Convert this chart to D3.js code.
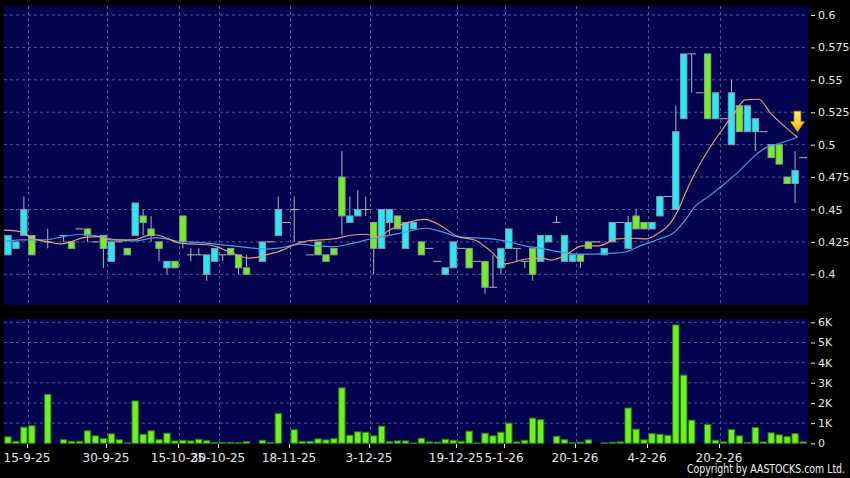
<!DOCTYPE html>
<html>
<head>
<meta charset="utf-8">
<title>Price chart</title>
<script src="https://d3js.org/d3.v7.min.js"></script>
<style>
  html, body { margin: 0; padding: 0; background: #000; }
  svg { display: block; }
  .axis text { fill: #e6e6e6; font-family: "DejaVu Sans", sans-serif; font-size: 12px; }
  .yaxis text { font-size: 11px; }
  .axis line { stroke: #e6e6e6; }
  .axis path { display: none; }
</style>
</head>
<body>
<div id="chart"></div>
<script>
// daily candles, index 0..100 (null = no candle that day)
var opens  = [.415,.42,.43,.43,null,.425,null,.43,.425,.435,.435,.425,.43,.41,.425,.42,.43,.445,.435,.425,
              .405,.41,.445,.415,.415,.40,.41,.415,.42,.415,.405,null,.41,.425,.43,.44,.45,.425,.415,.425,
              .415,.42,.475,.44,.445,.45,.44,.42,.44,.445,.42,.435,.425,.42,.41,.40,.405,.42,.42,.41,
              .41,.39,.405,.42,.42,.41,.42,.41,.425,.44,.41,.41,.415,.425,.425,.415,.425,.44,.42,.445,
              .44,.435,.445,.46,.45,.52,.57,.54,.57,.52,.52,.50,.53,.51,.51,.51,.50,.50,.475,.47,.49];
var highs  = [.43,.425,.46,.43,null,.435,null,.43,.425,.435,.435,.425,.43,.425,.425,.42,.455,.45,.445,.425,
              .41,.41,.445,.42,.42,.415,.42,.415,.42,.415,.415,null,.425,.425,.46,.44,.46,.425,.415,.425,
              .415,.42,.495,.46,.465,.46,.44,.45,.45,.445,.44,.44,.425,.42,.41,.405,.425,.42,.42,.41,
              .41,.415,.42,.435,.42,.41,.42,.43,.43,.445,.43,.415,.415,.425,.425,.42,.44,.44,.445,.45,
              .44,.44,.46,.46,.53,.57,.57,.54,.57,.54,.52,.55,.53,.53,.52,.51,.50,.50,.475,.495,.49];
var lows   = [.415,.42,.43,.415,null,.42,null,.425,.42,.435,.425,.425,.405,.41,.425,.415,.43,.43,.425,.41,
              .40,.405,.42,.41,.415,.395,.41,.41,.415,.40,.40,null,.41,.425,.43,.44,.425,.425,.415,.415,
              .41,.415,.43,.44,.445,.445,.40,.42,.43,.435,.42,.435,.415,.42,.41,.40,.405,.42,.405,.41,
              .385,.39,.40,.42,.41,.405,.395,.41,.425,.44,.41,.41,.405,.42,.425,.415,.425,.44,.42,.435,
              .435,.435,.445,.46,.45,.52,.54,.54,.52,.52,.52,.50,.51,.51,.495,.51,.49,.485,.47,.455,.49];
var closes = [.43,.425,.45,.415,null,.425,null,.43,.42,.435,.43,.425,.42,.425,.425,.415,.455,.44,.43,.42,
              .41,.405,.425,.415,.415,.415,.42,.415,.415,.405,.40,null,.425,.425,.45,.44,.45,.425,.415,.415,
              .41,.415,.445,.445,.45,.45,.42,.45,.45,.435,.44,.44,.415,.42,.41,.405,.425,.42,.405,.41,
              .39,.39,.42,.435,.42,.41,.40,.43,.43,.44,.43,.415,.41,.42,.425,.42,.44,.44,.44,.435,
              .435,.44,.46,.46,.51,.57,.57,.54,.52,.54,.52,.54,.51,.53,.52,.51,.49,.485,.47,.48,.49];
// volume in thousands of shares
var volumes = [.32,.1,.8,.87,0,2.43,0,.18,.1,.1,.62,.37,.23,.47,.18,.02,2.1,.45,.62,.18,
               .5,.12,.15,.12,.2,.13,.05,.05,.05,.03,.08,0,.15,.05,1.47,0,.67,.1,.1,.22,
               .17,.23,2.75,.4,.57,.55,.37,.85,.08,.12,.12,.02,.25,.07,.06,.2,.15,.1,.6,.02,
               .5,.37,.55,1.0,.07,.15,1.25,1.17,0,.35,.18,.03,.06,.17,0,.02,.05,.07,1.75,.7,
               .17,.48,.45,.4,5.87,3.38,1.15,0,.93,.15,.07,.68,.37,.05,.78,.07,.52,.42,.33,.48,.07];

// moving averages: [day index, price]
var maShort = [[-0.5,.434],[1.5,.433],[3,.4278],[4.9,.4252],[6.5,.4234],[8,.4252],[9.5,.4283],[11.6,.429],
  [12.8,.4265],[15.8,.4265],[17.4,.4296],[18.7,.4303],[20,.4278],[21.6,.424],[23.1,.4234],[25.4,.4226],
  [26.2,.4213],[28.3,.4162],[30.4,.4124],[32.5,.415],[34.6,.4188],[35.9,.4226],[37.6,.4257],[40.9,.4273],
  [43.4,.4303],[45.1,.4309],[46.4,.4286],[48,.4342],[50.2,.4398],[52.4,.4424],[54.5,.4373],[56.6,.429],
  [58.7,.4265],[60.8,.4175],[62.5,.408],[65,.4116],[67.1,.4124],[68.4,.411],[70.5,.4162],[72.2,.4219],
  [74.3,.4219],[76.6,.4273],[78.7,.4278],[80.3,.4273],[81.8,.4317],[83.3,.4393],[84.3,.4496],[85.2,.4625],
  [86.4,.4779],[88.1,.4959],[89.8,.5113],[91.5,.5254],[92.7,.5345],[94.4,.535],[96,.5237],[97.7,.5139],[99.3,.5057]];
var maLong = [[-0.5,.4252],[1.5,.4265],[4.5,.4265],[7.4,.4296],[9.5,.4309],[11.6,.429],[13.7,.4265],[15.8,.4257],
  [18.7,.4283],[21.2,.4257],[24.2,.4244],[28.3,.4219],[32.5,.4195],[34.6,.4208],[36.7,.4232],[38.8,.4219],
  [40.9,.4213],[43,.4234],[45.1,.4265],[47.2,.429],[50.3,.433],[52.4,.4355],[54.5,.4329],[56.6,.429],
  [60.8,.4273],[62.9,.4252],[65,.4219],[67.1,.42],[69.6,.417],[72.2,.4155],[75.6,.4162],[77.5,.417],
  [79.5,.4219],[81.8,.427],[83.9,.4329],[85.2,.4419],[86.4,.4522],[88.1,.4599],[90.2,.4702],[91.9,.4792],
  [93.5,.489],[95.2,.4972],[97.3,.5015],[99.3,.5057]];

var priceTicks = [0.4, 0.425, 0.45, 0.475, 0.5, 0.525, 0.55, 0.575, 0.6];
var volTicks = [0, 1, 2, 3, 4, 5, 6];
var dateLabels = ["15-9-25","30-9-25","15-10-25","30-10-25","18-11-25","3-12-25","19-12-25","5-1-26","20-1-26","4-2-26","20-2-26"];
var dateIndex = [3, 13, 22, 27, 36, 46, 57, 63, 72, 81, 90];
var arrowAt = [99.3, 0.51];

var W = 850, H = 478;
var colUp = "#22ecf8", colDown = "#74f01c", colEdge = "#8a9aa4", colWick = "#b4b4b4";
var grid = "#55559a";

var svg = d3.select("#chart").append("svg")
  .attr("width", W).attr("height", H)
  .style("background", "#000");

// scales
var x = d3.scaleLinear().domain([-0.5, 100.5]).range([4, 807]);
var step = x(1) - x(0);
var y = d3.scaleLinear().domain([0.4, 0.6]).range([274.3, 15]);
var yv = d3.scaleLinear().domain([0, 6]).range([443.3, 322.3]);

var pTop = 6, pBot = 305, vTop = 319, vBot = 443.5, left = 4, right = 808;

// panels
svg.append("rect").attr("x", left).attr("y", pTop).attr("width", right - left).attr("height", pBot - pTop).attr("fill", "#02024e");
svg.append("rect").attr("x", left).attr("y", vTop).attr("width", right - left).attr("height", vBot - vTop).attr("fill", "#02024e");

// horizontal grid
svg.append("g").selectAll("line").data(priceTicks).enter().append("line")
  .attr("x1", left).attr("x2", right)
  .attr("y1", function(d) { return y(d); }).attr("y2", function(d) { return y(d); })
  .attr("stroke", grid).attr("stroke-dasharray", "3,3");
svg.append("g").selectAll("line").data(volTicks.slice(1)).enter().append("line")
  .attr("x1", left).attr("x2", right)
  .attr("y1", function(d) { return yv(d); }).attr("y2", function(d) { return yv(d); })
  .attr("stroke", grid).attr("stroke-dasharray", "3,3");

// vertical grid at the date ticks
dateIndex.forEach(function(i) {
  var gx = Math.round(x(i - 0.5)) + 0.5;
  svg.append("line").attr("x1", gx).attr("x2", gx).attr("y1", pTop).attr("y2", pBot)
    .attr("stroke", grid).attr("stroke-dasharray", "3,3");
  svg.append("line").attr("x1", gx).attr("x2", gx).attr("y1", vTop).attr("y2", vBot)
    .attr("stroke", grid).attr("stroke-dasharray", "3,3");
});

// candles
var days = d3.range(opens.length).filter(function(i) { return opens[i] !== null; });
var bw = step - 1.6;

svg.append("g").selectAll("line").data(days).enter().append("line")
  .attr("x1", function(i) { return x(i); }).attr("x2", function(i) { return x(i); })
  .attr("y1", function(i) { return y(highs[i]); }).attr("y2", function(i) { return y(lows[i]); })
  .attr("stroke", colWick);

var bodies = days.filter(function(i) { return opens[i] !== closes[i]; });
var doji = days.filter(function(i) { return opens[i] === closes[i]; });

svg.append("g").selectAll("rect").data(bodies).enter().append("rect")
  .attr("x", function(i) { return x(i) - bw / 2; })
  .attr("y", function(i) { return y(Math.max(opens[i], closes[i])); })
  .attr("width", bw)
  .attr("height", function(i) { return Math.abs(y(opens[i]) - y(closes[i])); })
  .attr("fill", function(i) { return closes[i] > opens[i] ? colUp : colDown; })
  .attr("stroke", colEdge).attr("stroke-width", 1);

svg.append("g").selectAll("line").data(doji).enter().append("line")
  .attr("x1", function(i) { return x(i) - step / 2; }).attr("x2", function(i) { return x(i) + step / 2; })
  .attr("y1", function(i) { return y(opens[i]); }).attr("y2", function(i) { return y(opens[i]); })
  .attr("stroke", colWick);

// moving averages
var maLine = d3.line().x(function(d) { return x(d[0]); }).y(function(d) { return y(d[1]); }).curve(d3.curveMonotoneX);
svg.append("path").datum(maLong).attr("d", maLine).attr("fill", "none").attr("stroke", "#3f9fea").attr("stroke-width", 1.2);
svg.append("path").datum(maShort).attr("d", maLine).attr("fill", "none").attr("stroke", "#e89a76").attr("stroke-width", 1.2);

// signal arrow
var defs = svg.append("defs");
var grad = defs.append("linearGradient").attr("id", "gold").attr("x1", 0).attr("x2", 0).attr("y1", 0).attr("y2", 1);
grad.append("stop").attr("offset", "0%").attr("stop-color", "#fff07a");
grad.append("stop").attr("offset", "100%").attr("stop-color", "#f0b400");
var ax = x(arrowAt[0]), ay = y(arrowAt[1]);
svg.append("path")
  .attr("d", "M" + ax + "," + ay + " l-7,-10 l3.6,0 l0,-10.5 l6.8,0 l0,10.5 l3.6,0 z")
  .attr("fill", "url(#gold)").attr("stroke", "#c98e00").attr("stroke-width", 0.8);

// volume bars
var vdays = d3.range(volumes.length).filter(function(i) { return volumes[i] > 0; });
svg.append("g").selectAll("rect").data(vdays).enter().append("rect")
  .attr("x", function(i) { return x(i) - bw / 2; })
  .attr("y", function(i) { return yv(volumes[i]); })
  .attr("width", bw)
  .attr("height", function(i) { return yv(0) - yv(volumes[i]); })
  .attr("fill", "#6cf41a").attr("stroke", "#2f7a10").attr("stroke-width", 1);

// right axes
svg.append("g").attr("class", "axis yaxis").attr("transform", "translate(811,0)")
  .call(d3.axisRight(y).tickValues(priceTicks).tickSize(4).tickPadding(3)
    .tickFormat(function(d) { return String(+d.toFixed(3)); }));
svg.append("g").attr("class", "axis yaxis").attr("transform", "translate(811,0)")
  .call(d3.axisRight(yv).tickValues(volTicks).tickSize(4).tickPadding(3)
    .tickFormat(function(d) { return d === 0 ? "0" : d + "K"; }));

// date axis
var xa = svg.append("g").attr("class", "axis");
dateIndex.forEach(function(i, k) {
  var gx = Math.round(x(i - 0.5)) - 1;
  xa.append("line").attr("x1", gx + 0.5).attr("x2", gx + 0.5).attr("y1", 444).attr("y2", 448);
  xa.append("text").attr("x", gx).attr("y", 462).attr("text-anchor", "middle").text(dateLabels[k]);
});

svg.append("text").attr("x", 845).attr("y", 473).attr("text-anchor", "end")
  .attr("textLength", 158).attr("lengthAdjust", "spacingAndGlyphs")
  .style("font-family", "DejaVu Sans, sans-serif").style("font-size", "11.5px").style("fill", "#f0f0f0")
  .text("Copyright by AASTOCKS.com Ltd.");
</script>
</body>
</html>
